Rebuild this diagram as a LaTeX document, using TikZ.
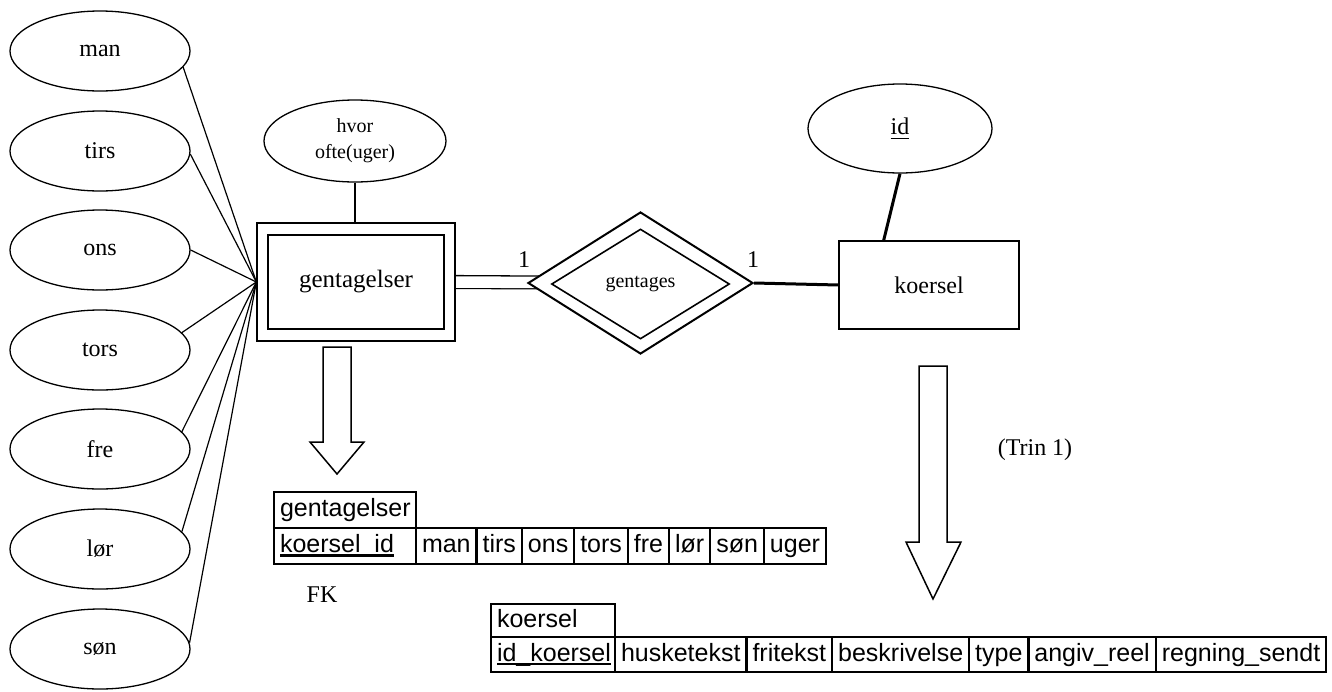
\documentclass[tikz,border=0pt]{standalone}
\usepackage{fontspec}
\setmainfont{Liberation Serif}
\newfontfamily\tabfont{Liberation Sans}
\usetikzlibrary{shapes.geometric,calc,backgrounds}

% underlined key attribute with a rule of chosen thickness
\newcommand\keyul[2][2.2pt]{\setbox0\hbox{#2}\rlap{\rule[-4pt]{\wd0}{#1}}\box0}

\begin{document}
\begin{tikzpicture}[x=1pt,y=-1pt,
  attr/.style={ellipse, draw, line width=1.3pt, fill=white, inner sep=0pt,
    minimum width=180pt, minimum height=80pt, font=\fontsize{24}{28}\selectfont},
  entity/.style={rectangle, draw, line width=1.3pt, fill=white, inner sep=0pt,
    font=\fontsize{24}{28}\selectfont},
  rel/.style={diamond, draw, line width=2pt, fill=white, inner sep=0pt,
    font=\fontsize{20}{24}\selectfont},
  lbl/.style={inner sep=0pt, font=\fontsize{24}{28}\selectfont},
  conn/.style={line width=1.2pt},
  thickconn/.style={line width=3pt},
  blockarrow/.style={draw, line width=1.5pt, fill=white, line join=miter},
  cell/.style={draw, line width=2.4pt, outer sep=0pt, inner xsep=6pt, inner ysep=0pt,
    text height=18pt, text depth=5pt, anchor=north west,
    font=\tabfont\fontsize{25}{29}\selectfont},
  keycell/.style={cell, align=left, text width=#1}]

\useasboundingbox (0,0) rectangle (1332,691);

% weekday attributes
\node[attr] (man)  at (100,51)  {man};
\node[attr] (tirs) at (100,151) {tirs};
\node[attr] (ons)  at (100,250) {ons};
\node[attr] (tors) at (100,350) {tors};
\node[attr] (fre)  at (100,449) {fre};
\node[attr] (lor)  at (100,549) {lør};
\node[attr] (son)  at (100,649) {søn};

% weak entity gentagelser with its attribute
\node[attr, minimum width=182pt, minimum height=82pt, align=center,
      font=\fontsize{20}{26}\selectfont] (hvor) at (355,141) {hvor\\ofte(uger)};
\node[entity, minimum width=198pt, minimum height=118pt] (gent) at (356,282) {};
\node[entity, minimum width=176pt, minimum height=94pt, fill=none,
      font=\fontsize{25}{29}\selectfont] (gentin) at (356,282) {gentagelser};

% identifying relationship
\node[rel, minimum width=225pt, minimum height=142pt] (rel) at (640.5,283) {};
\node[rel, minimum width=178pt, minimum height=110pt, line width=1.6pt, fill=none] (relin) at (640.5,284) {gentages};
\node[lbl] (c1) at (524,260) {1};
\node[lbl] (c2) at (753,260) {1};

% entity koersel
\node[entity, minimum width=180pt, minimum height=88pt] (koersel) at (929,285) {koersel};
\node[attr, minimum width=184pt, minimum height=89pt] (id) at (900,128.5) {\keyul[1.2pt]{id}};

\begin{pgfonlayer}{background}
  \foreach \d/\ang in {man/-11,tirs/-2,ons/0,tors/12,fre/12,lor/12,son/4}
    \draw[conn] (\d.\ang) -- (gent.west);
  \draw[conn] (hvor.south) -- (hvor.south |- gent.north);
  \draw[line width=1.3pt, double, double distance=11.5pt] (gent.east) -- (rel.center);
  \draw[thickconn] (rel.east) -- (koersel.west);
  \draw[thickconn] (id.south) -- ($(koersel.north west)!0.25!(koersel.north east)$);
\end{pgfonlayer}

% mapping arrows
\draw[blockarrow] (323,347) -- (351,347) -- (351,442) -- (364,442) -- (337,474)
  -- (310,442) -- (323,442) -- cycle;
\draw[blockarrow] (919,366) -- (947,366) -- (947,542) -- (961,542) -- (933,599)
  -- (906,542) -- (919,542) -- cycle;
\node[lbl] (trin) at (1035,450) {(Trin 1)};

% relation gentagelser
\node[keycell=130pt, minimum height=36pt] (g1) at (274,528) {\keyul{koersel\_id}};
\node[keycell=130pt, anchor=south west, minimum height=36pt] (gh) at (g1.north west) {gentagelser};
\node[cell, minimum height=36pt] (g2) at (g1.north east) {man};
\node[cell, minimum height=36pt] (g3) at (g2.north east) {tirs};
\node[cell, minimum height=36pt] (g4) at (g3.north east) {ons};
\node[cell, minimum height=36pt] (g5) at (g4.north east) {tors};
\node[cell, minimum height=36pt] (g6) at (g5.north east) {fre};
\node[cell, minimum height=36pt] (g7) at (g6.north east) {lør};
\node[cell, minimum height=36pt] (g8) at (g7.north east) {søn};
\node[cell, minimum height=36pt] (g9) at (g8.north east) {uger};
\node[lbl] (fk) at (322,595) {FK};

% relation koersel
\node[keycell=112pt, minimum height=35pt] (k1) at (491,637) {\keyul{id\_koersel}};
\node[keycell=112pt, anchor=south west, minimum height=33pt] (kh) at (k1.north west) {koersel};
\node[cell, minimum height=35pt] (k2) at (k1.north east) {husketekst};
\node[cell, minimum height=35pt] (k3) at (k2.north east) {fritekst};
\node[cell, minimum height=35pt] (k4) at (k3.north east) {beskrivelse};
\node[cell, minimum height=35pt] (k5) at (k4.north east) {type};
\node[cell, minimum height=35pt] (k6) at (k5.north east) {angiv\_reel};
\node[cell, minimum height=35pt] (k7) at (k6.north east) {regning\_sendt};
\end{tikzpicture}
\end{document}
